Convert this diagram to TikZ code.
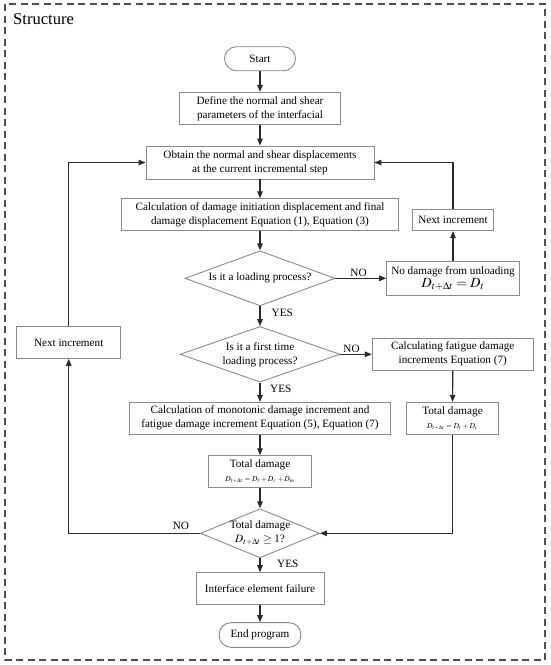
\documentclass[tikz,border=0pt]{standalone}
\usepackage{amsmath}
\usepackage{mathptmx}
\usepackage{fontspec}
\setmainfont{Liberation Serif}
\usetikzlibrary{shapes.geometric,arrows.meta}
\definecolor{boxgray}{HTML}{8A8A8A}
\definecolor{linegray}{HTML}{2A2A2A}
\definecolor{framegray}{HTML}{505050}
\newcommand\mainfs{\fontsize{11.2}{14}\selectfont}
\newcommand\smallmath{\fontsize{7.6}{9}\selectfont}
\newcommand\dotD{\overset{.}{D}}
\begin{document}
\begin{tikzpicture}[x=1pt,y=-1pt,
  box/.style={draw=boxgray, line width=0.9pt, fill=white, inner sep=0pt, align=center, font=\mainfs},
  term/.style={box, rounded corners=12pt},
  dia/.style={draw=boxgray, line width=0.9pt, diamond, inner sep=0pt},
  diatext/.style={align=center, font=\mainfs, inner sep=0pt},
  lbl/.style={font=\mainfs, inner sep=0pt},
  arr/.style={draw=linegray, line width=1.2pt, -{Triangle[length=7pt,width=5.5pt]}},
  frame/.style={draw=framegray, line width=1.3pt, dash pattern=on 7pt off 4.5pt}
]
\useasboundingbox (0,0) rectangle (550,665);
\draw[frame] (5,4) rectangle (545,660);
\node[anchor=base west, inner sep=0pt, font=\fontsize{16.6}{18}\selectfont] (title) at (13,24) {Structure};

% main column
\node[term, minimum width=71pt, minimum height=24pt] (start) at (260,58.7) {Start};
\node[box, minimum width=161pt, minimum height=32pt] (define) at (260,108.3) {Define the normal and shear\\parameters of the interfacial};
\node[box, minimum width=228pt, minimum height=33pt] (obtain) at (260,162.5) {Obtain the normal and shear displacements\\at the current incremental step};
\node[box, minimum width=276.7pt, minimum height=32pt] (calc1) at (260,214.7) {Calculation of damage initiation displacement and final\\damage displacement Equation (1), Equation (3)};
\node[dia, minimum width=150pt, minimum height=55pt] (d1) at (260,278.3) {};
\node[diatext] (d1t) at (d1) {Is it a loading process?};
\node[dia, minimum width=160pt, minimum height=55.6pt] (d2) at (260,354.3) {};
\node[diatext] (d2t) at (d2) {Is it a first time\\loading process?};
\node[box, minimum width=260.7pt, minimum height=31.7pt] (calc2) at (260,418.2) {Calculation of monotonic damage increment and\\fatigue damage increment Equation (5), Equation (7)};
\node[box, minimum width=103pt, minimum height=32pt] (tot1) at (260,471.7) {Total damage\\[0pt]{\smallmath $D_{t+\Delta t}=D_t+\dotD_c+\dotD_m$}};
\node[dia, minimum width=119pt, minimum height=49pt] (d3) at (260,533.3) {};
\node[diatext] (d3t) at (d3) {Total damage\\$D_{t+\Delta t}\geq 1$?};
\node[box, minimum width=128pt, minimum height=31.7pt] (iface) at (260,588.5) {Interface element failure};
\node[term, minimum width=81.7pt, minimum height=24.7pt] (end) at (260,635) {End program};

% right column
\node[box, minimum width=80.7pt, minimum height=21.7pt] (nextR) at (453,219.8) {Next increment};
\node[box, minimum width=132.7pt, minimum height=34pt] (nodmg) at (453,278.7) {No damage from unloading\\[-1pt]{\fontsize{14}{15}\selectfont $D_{t+\Delta t}=D_t$}};
\node[box, minimum width=161pt, minimum height=31.7pt] (calcF) at (452.8,354.2) {Calculating fatigue damage\\increments Equation (7)};
\node[box, minimum width=91.7pt, minimum height=32pt] (totR) at (452.5,418.3) {Total damage\\[0pt]{\smallmath $D_{t+\Delta t}=D_t+\dotD_c$}};

% left column
\node[box, minimum width=104pt, minimum height=31.7pt] (nextL) at (68.7,342.5) {Next increment};

% labels
\node[lbl] (no1) at (358.5,272.7) {NO};
\node[lbl] (no2) at (351.5,349) {NO};
\node[lbl] (no3) at (181,525.7) {NO};
\node[lbl, anchor=west] (yes1) at (271.5,313.3) {YES};
\node[lbl, anchor=west] (yes2) at (270,389.3) {YES};
\node[lbl, anchor=west] (yes3) at (277,564.3) {YES};

% connectors
\draw[arr] (start) -- (define);
\draw[arr] (define) -- (obtain);
\draw[arr] (obtain) -- (calc1);
\draw[arr] (calc1) -- (d1);
\draw[arr] (d1) -- (d2);
\draw[arr] (d2) -- (calc2);
\draw[arr] (calc2) -- (tot1);
\draw[arr] (tot1) -- (d3);
\draw[arr] (d3) -- (iface);
\draw[arr] (iface) -- (end);
\draw[arr] (d1.east) -- (d1.east -| nodmg.west);
\draw[arr] (nodmg) -- (nextR);
\draw[arr] (nextR.north) |- (obtain.east);
\draw[arr] (d2.east) -- (d2.east -| calcF.west);
\draw[arr] (calcF) -- (totR);
\draw[arr] (totR.south) |- (d3.east);
\draw[arr] (d3.west) -| (nextL.south);
\draw[arr] (nextL.north) |- (obtain.west);
\end{tikzpicture}
\end{document}
